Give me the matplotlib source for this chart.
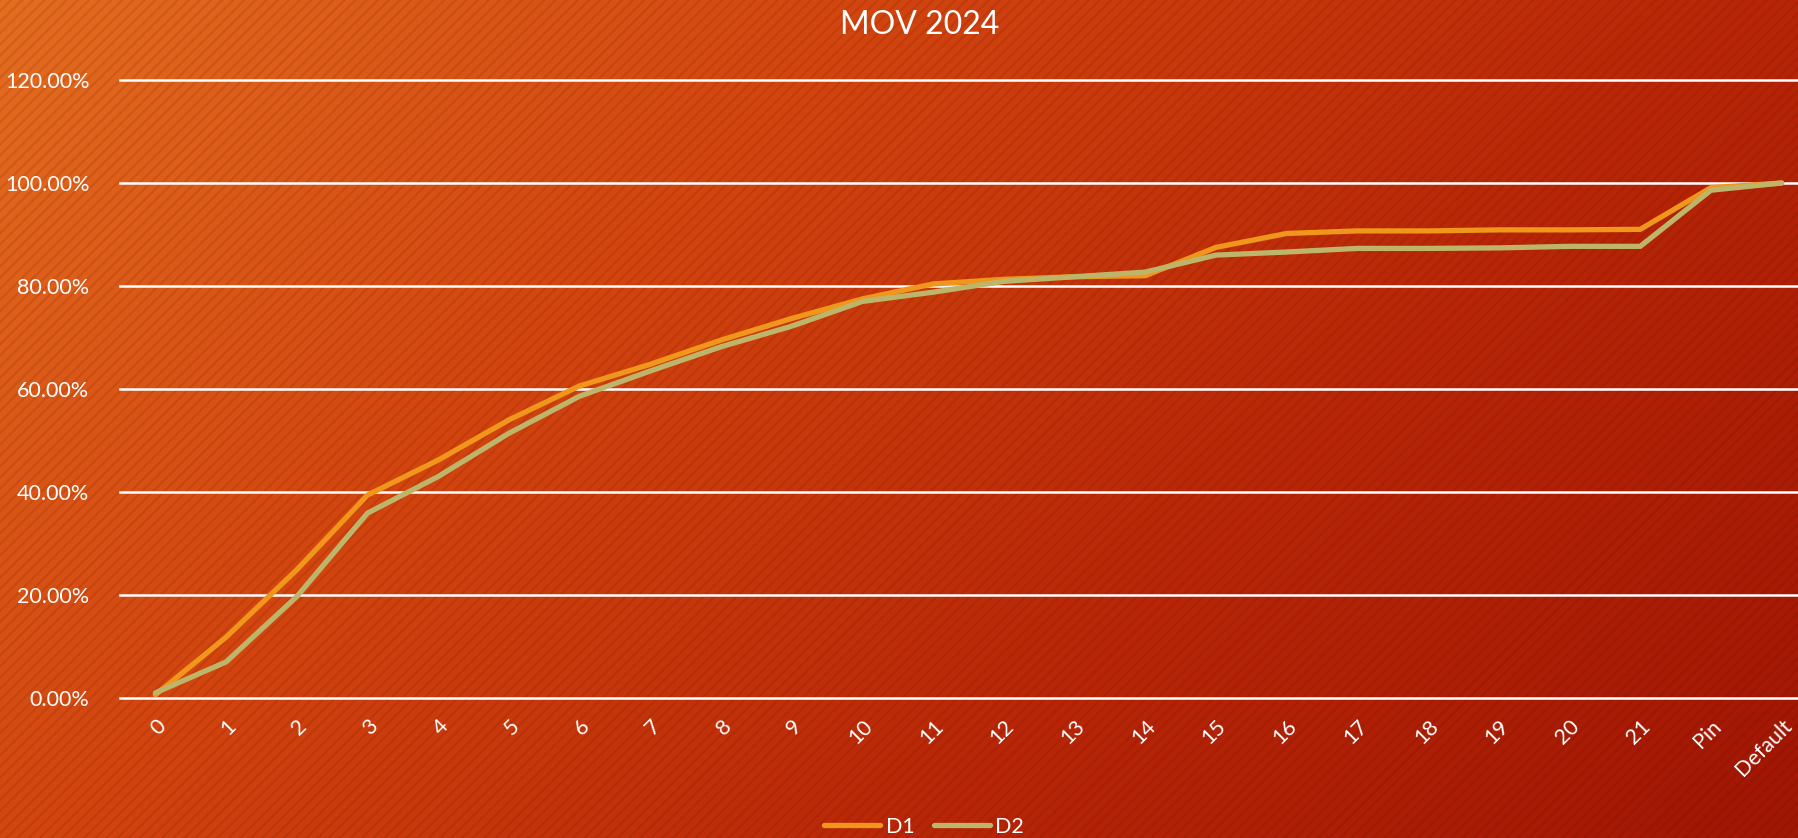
import numpy as np
import matplotlib
import matplotlib.pyplot as plt
from matplotlib.patches import Rectangle
from matplotlib.colors import LinearSegmentedColormap

matplotlib.use('Agg')

# data
categories = [str(i) for i in range(22)] + ['Pin', 'Default']
d1 = [0.006, 0.118, 0.249, 0.394, 0.462, 0.540, 0.606, 0.648, 0.695, 0.737,
      0.775, 0.804, 0.813, 0.818, 0.820, 0.875, 0.902, 0.907, 0.907, 0.909,
      0.909, 0.910, 0.991, 1.000]
d2 = [0.010, 0.070, 0.197, 0.359, 0.430, 0.514, 0.586, 0.635, 0.682, 0.722,
      0.770, 0.788, 0.809, 0.818, 0.827, 0.860, 0.866, 0.873, 0.873, 0.874,
      0.877, 0.877, 0.986, 1.000]
y_ticks = [0.0, 0.2, 0.4, 0.6, 0.8, 1.0, 1.2]

plt.rcParams['font.family'] = ['Lato', 'DejaVu Sans']

W, H = 1798, 838
fig = plt.figure(figsize=(W / 100, H / 100), dpi=100)

# background: diagonal gradient + fine stripes
bg = fig.add_axes([0, 0, 1, 1])
bg.set_axis_off()
xx, yy = np.meshgrid(np.linspace(0, 1, 400), np.linspace(0, 1, 200))
t = (xx * W + yy * H) / (W + H)
cmap = LinearSegmentedColormap.from_list(
    'bg', ['#E46D20', '#D2450F', '#B82607', '#A01604'])
bg.imshow(t, cmap=cmap, aspect='auto', extent=[0, 1, 0, 1], origin='upper')
bg.set_xlim(0, 1)
bg.set_ylim(0, 1)
plt.rcParams['hatch.linewidth'] = 1.6
bg.add_patch(Rectangle((0, 0), 1, 1, transform=bg.transAxes, facecolor='none',
                       edgecolor=(0.35, 0.05, 0.0, 0.12), hatch='///', lw=0))

# plot area
ax = fig.add_axes([120 / W, 1 - 698 / H, (1817 - 120) / W, (698 - 80) / H])
ax.patch.set_alpha(0)
x = np.arange(len(categories))

for yv in y_ticks:
    ax.axhline(yv, color='white', lw=1.8, zorder=1, clip_on=False)

ax.plot(x, d1, color='#F0961A', lw=3.8, solid_capstyle='round',
        solid_joinstyle='round', label='D1', zorder=3)
ax.plot(x, d2, color='#BDB56A', lw=3.8, solid_capstyle='round',
        solid_joinstyle='round', label='D2', zorder=3)

ax.set_xlim(-0.5, len(categories) - 0.5)
ax.set_ylim(0, 1.2)
ax.set_yticks(y_ticks)
ax.set_yticklabels([f'{v * 100:.2f}%' for v in y_ticks], color='white', fontsize=15.5)
ax.set_xticks(x)
ax.set_xticklabels(categories, color='white', fontsize=15.5, rotation=45,
                   ha='right', va='top', rotation_mode='anchor')
ax.tick_params(length=0, pad=13)
ax.tick_params(axis='y', pad=22)
for s in ax.spines.values():
    s.set_visible(False)

fig.text(920 / W, 1 - 25 / H, 'MOV 2024', color='white', fontsize=23,
         ha='center', va='center')

fig.legend(loc='center', bbox_to_anchor=(924 / W, 1 - 827 / H), ncol=2,
           frameon=False, fontsize=15.5, labelcolor='white', handlelength=2.6,
           handletextpad=0.25, columnspacing=0.9)

fig.savefig('out.png', dpi=100)
